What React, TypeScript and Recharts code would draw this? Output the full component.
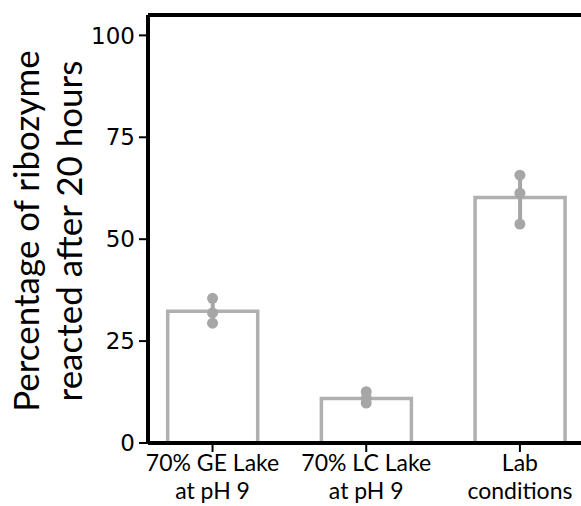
import React from 'react';
import { ComposedChart, Bar, Scatter, XAxis, YAxis, ErrorBar, ReferenceLine } from 'recharts';

const categoryLine1 = ['70% GE Lake', '70% LC Lake', 'Lab'];
const categoryLine2 = ['at pH 9', 'at pH 9', 'conditions'];
const meanValues = [32.3, 10.9, 60.2];
const errorValues = [3.0, 1.4, 6.0];
const replicateValues = [
  [35.5, 31.9, 29.4],
  [12.6, 11.0, 9.8],
  [65.7, 61.3, 53.7],
];
const yTicks = [0, 25, 50, 75, 100];
const yLabelLines = ['Percentage of ribozyme', 'reacted after 20 hours'];

const barData = meanValues.map((m, i) => ({ x: i, mean: m, err: errorValues[i] }));
const pointData = replicateValues.flatMap((vals, i) => vals.map((v) => ({ x: i, value: v })));

const FONT = 'Lato, sans-serif';
const TICK_FONT = '"DejaVu Sans", sans-serif';

const XTick = (props: any) => {
  const { x, y, payload } = props;
  const i = payload.value as number;
  return (
    <g>
      <text x={x} y={y} textAnchor="middle" fontFamily={FONT} fontSize={23} fill="#000">
        <tspan x={x} dy={17}>{categoryLine1[i]}</tspan>
        <tspan x={x} dy={28}>{categoryLine2[i]}</tspan>
      </text>
    </g>
  );
};

const YLabel = () => (
  <text transform="translate(0, 231) rotate(-90)" textAnchor="middle" fontFamily={FONT} fontSize={35} fill="#000">
    <tspan x={0} y={39}>{yLabelLines[0]}</tspan>
    <tspan x={0} y={82}>{yLabelLines[1]}</tspan>
  </text>
);

export default function App() {
  return (
    <div style={{ position: 'absolute', left: 0, top: 0, width: 581, height: 506, overflow: 'hidden', background: '#fff' }}>
      <ComposedChart width={600} height={506} data={barData} margin={{ top: 15, right: 14, bottom: 0, left: 0 }}>
        <XAxis
          type="number"
          dataKey="x"
          domain={[-0.42, 2.43]}
          ticks={[0, 1, 2]}
          allowDataOverflow
          height={63}
          axisLine={{ stroke: '#000', strokeWidth: 4 }}
          tickLine={{ stroke: '#000', strokeWidth: 2 }}
          tickSize={9}
          tick={<XTick />}
          interval={0}
        />
        <YAxis
          type="number"
          domain={[0, 105]}
          ticks={yTicks}
          allowDataOverflow
          width={148}
          axisLine={{ stroke: '#000', strokeWidth: 4 }}
          tickLine={{ stroke: '#000', strokeWidth: 2 }}
          tickSize={9}
          tickMargin={4}
          tick={{ fill: '#000', fontSize: 23, fontFamily: TICK_FONT }}
          label={{ content: <YLabel /> }}
        />
        <ReferenceLine y={105} stroke="#000" strokeWidth={4} />
        <Bar dataKey="mean" fill="#fff" stroke="#b0b0b0" strokeWidth={3.5} barSize={90} isAnimationActive={false}>
          <ErrorBar dataKey="err" width={0} stroke="#a6a6a6" strokeWidth={4} direction="y" />
        </Bar>
        <Scatter
          data={pointData}
          dataKey="value"
          isAnimationActive={false}
          shape={(p: any) => <circle cx={p.cx} cy={p.cy} r={5.5} fill="#a6a6a6" />}
        />
      </ComposedChart>
    </div>
  );
}
